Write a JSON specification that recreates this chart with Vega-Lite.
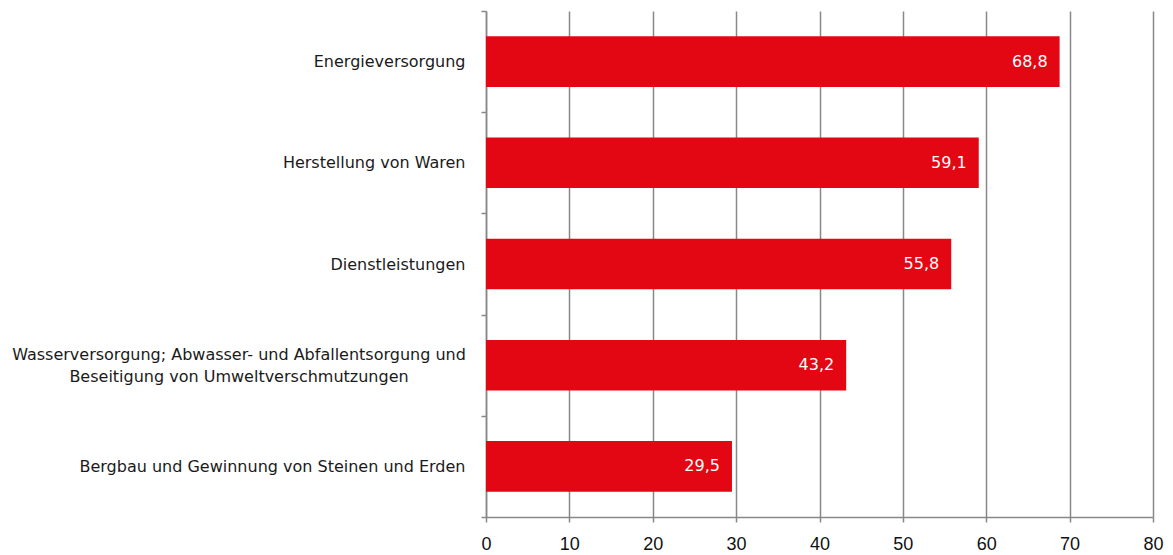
{
  "$schema": "https://vega.github.io/schema/vega-lite/v6.json",
  "autosize": {"type": "none"},
  "padding": {"left": 486, "top": 11, "right": 20, "bottom": 38},
  "width": 667,
  "height": 506,
  "background": "white",
  "config": {
    "locale": {"number": {"decimal": ",", "thousands": ".", "grouping": [3], "currency": ["", " €"]}},
    "view": {"stroke": null},
    "font": "DejaVu Sans"
  },
  "data": {
    "values": [
      {"Bereich": "Energieversorgung", "Wert": 68.8},
      {"Bereich": "Herstellung von Waren", "Wert": 59.1},
      {"Bereich": "Dienstleistungen", "Wert": 55.8},
      {"Bereich": "Wasserversorgung; Abwasser- und Abfallentsorgung und Beseitigung von Umweltverschmutzungen", "Wert": 43.2},
      {"Bereich": "Bergbau und Gewinnung von Steinen und Erden", "Wert": 29.5}
    ]
  },
  "encoding": {
    "y": {
      "field": "Bereich",
      "type": "nominal",
      "sort": "-x",
      "scale": {"paddingInner": 0, "paddingOuter": 0},
      "axis": {
        "title": null,
        "domainColor": "#888888",
        "domainWidth": 1.5,
        "tickColor": "#888888",
        "tickWidth": 1.5,
        "tickSize": 5,
        "tickBand": "extent",
        "labelFont": "DejaVu Sans",
        "labelFontSize": 16,
        "labelColor": "#1a1a1a",
        "labelPadding": {"condition": {"test": "datum.value === 'Wasserversorgung; Abwasser- und Abfallentsorgung und Beseitigung von Umweltverschmutzungen'", "value": 242.5}, "value": 16},
        "labelAlign": {"condition": {"test": "datum.value === 'Wasserversorgung; Abwasser- und Abfallentsorgung und Beseitigung von Umweltverschmutzungen'", "value": "center"}, "value": "right"},
        "labelOffset": {"condition": {"test": "datum.value === 'Wasserversorgung; Abwasser- und Abfallentsorgung und Beseitigung von Umweltverschmutzungen'", "value": -11}, "value": 0},
        "labelLimit": 480,
        "labelLineHeight": 22,
        "labelExpr": "datum.label == 'Wasserversorgung; Abwasser- und Abfallentsorgung und Beseitigung von Umweltverschmutzungen' ? ['Wasserversorgung; Abwasser- und Abfallentsorgung und', 'Beseitigung von Umweltverschmutzungen'] : datum.label"
      }
    },
    "x": {
      "field": "Wert",
      "type": "quantitative",
      "scale": {"domain": [0, 80], "nice": false},
      "axis": {
        "title": null,
        "values": [0, 10, 20, 30, 40, 50, 60, 70, 80],
        "grid": true,
        "gridColor": "#888888",
        "gridWidth": 1.5,
        "domainColor": "#888888",
        "domainWidth": 1.5,
        "tickColor": "#888888",
        "tickWidth": 1.5,
        "tickSize": 5,
        "labelFont": "Liberation Sans",
        "labelFontSize": 18,
        "labelColor": "#111111",
        "labelPadding": 13,
        "labelFlush": false
      }
    }
  },
  "layer": [
    {"mark": {"type": "bar", "color": "#E30613", "height": {"band": 0.5}}},
    {
      "mark": {"type": "text", "align": "right", "dx": -12, "color": "white", "fontSize": 16, "font": "DejaVu Sans"},
      "encoding": {"text": {"field": "Wert", "type": "quantitative", "format": ".1f"}}
    }
  ]
}
